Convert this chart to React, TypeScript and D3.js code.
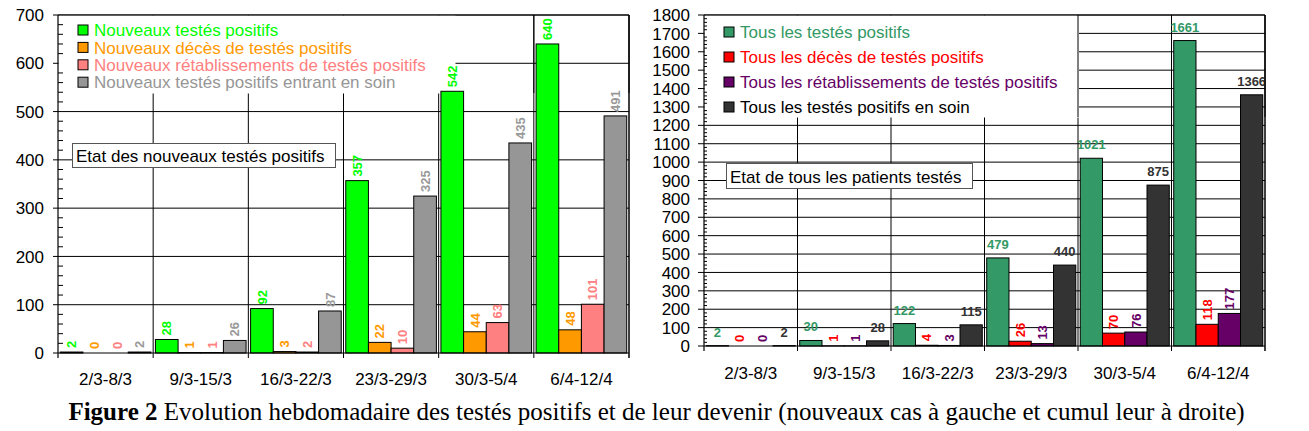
import React from 'react';
import * as d3 from 'd3';

const categories = ['2/3-8/3', '9/3-15/3', '16/3-22/3', '23/3-29/3', '30/3-5/4', '6/4-12/4'];

// left panel: new cases per week
const newPositive = [2, 28, 92, 357, 542, 640];
const newDeaths = [0, 1, 3, 22, 44, 48];
const newRecovered = [0, 1, 2, 10, 63, 101];
const newInCare = [2, 26, 87, 325, 435, 491];

// right panel: cumulative
const allPositive = [2, 30, 122, 479, 1021, 1661];
const allDeaths = [0, 1, 4, 26, 70, 118];
const allRecovered = [0, 1, 3, 13, 76, 177];
const allInCare = [2, 28, 115, 440, 875, 1366];

const leftTicks = d3.range(0, 701, 100);
const rightTicks = d3.range(0, 1801, 100);

const leftNames = [
  'Nouveaux testés positifs',
  'Nouveaux décès de testés positifs',
  'Nouveaux rétablissements de testés positifs',
  'Nouveaux testés positifs entrant en soin',
];
const rightNames = [
  'Tous les testés positifs',
  'Tous les décès de testés positifs',
  'Tous les rétablissements de testés positifs',
  'Tous les testés positifs en soin',
];

const FONT = '"Liberation Sans", Arial, sans-serif';

interface Series {
  name: string;
  values: number[];
  fill: string;
  text: string;
  horizontal: boolean;
}

interface PanelProps {
  series: Series[];
  ticks: number[];
  max: number;
  x0: number;
  x1: number;
  yTop: number;
  yZero: number;
  legend: { w: number; h: number; rowY: number; rowGap: number };
  box: { x: number; y: number; w: number; h: number; label: string };
  xLabelY: number;
  majorLen: number;
  minorLen: number;
}

const Panel: React.FC<PanelProps> = ({ series, ticks, max, x0, x1, yTop, yZero, legend, box, xLabelY, majorLen, minorLen }) => {
  const x = d3.scaleBand<string>().domain(categories).range([x0, x1]).padding(0);
  const inner = d3.scaleBand<number>().domain(d3.range(series.length)).range([0, x.bandwidth()]).paddingInner(0).paddingOuter(0.1);
  const y = d3.scaleLinear().domain([0, max]).range([yZero, yTop]);
  const minor = d3.range(0, max + 1, 20).filter(v => v % 100 !== 0);
  const bounds = categories.map(c => x(c)!).concat([x1]);
  const lx1 = x0 + legend.w;
  const ly1 = yTop + legend.h;

  return (
    <g>
      {/* horizontal grid */}
      {ticks.filter(t => t > 0).map(t => (
        <line key={'h' + t} x1={x0} x2={x1} y1={y(t)} y2={y(t)} stroke="#000" strokeWidth={1} />
      ))}
      {/* vertical grid at category bounds */}
      {bounds.slice(1).map((b, i) => (
        <line key={'v' + i} x1={b} x2={b} y1={yTop} y2={yZero + 5} stroke="#000" strokeWidth={1} />
      ))}
      {/* legend background hides grid */}
      <rect x={x0 + 0.5} y={yTop + 0.5} width={lx1 - x0} height={ly1 - yTop} fill="#fff" />
      {bounds.slice(1).filter(b => b >= lx1 - 1).map((b, i) => (
        <line key={'vr' + i} x1={b} x2={b} y1={yTop} y2={ly1} stroke="#000" strokeWidth={1} />
      ))}
      <line x1={x0} x2={x1} y1={yTop} y2={yTop} stroke="#000" />

      {series.map((s, si) => (
        <g key={s.name}>
          <rect
            x={x0 + 20}
            y={legend.rowY + si * legend.rowGap - 5}
            width={10}
            height={10}
            fill={s.fill}
            stroke="#000"
            strokeWidth={1}
          />
          <text
            x={x0 + 36}
            y={legend.rowY + si * legend.rowGap}
            dy="0.36em"
            fontFamily={FONT}
            fontSize={17}
            fill={s.text}
          >
            {s.name}
          </text>
        </g>
      ))}

      {/* bars */}
      {series.map((s, si) =>
        s.values.map((v, ci) => {
          const bx = x(categories[ci])! + inner(si)!;
          const bw = inner.bandwidth();
          const top = y(v);
          const cx = bx + bw / 2;
          return (
            <g key={s.name + ci}>
              <rect x={bx} y={top} width={bw} height={yZero - top} fill={s.fill} stroke="#000" strokeWidth={1} />
              {s.horizontal ? (
                <text x={cx} y={top - 9} textAnchor="middle" fontFamily={FONT} fontSize={13} fontWeight="bold" fill={s.fill}>
                  {v}
                </text>
              ) : (
                <text
                  transform={`translate(${cx},${top - 4}) rotate(-90)`}
                  dy="0.36em"
                  fontFamily={FONT}
                  fontSize={13}
                  fontWeight="bold"
                  fill={s.fill === '#969696' ? '#999' : s.fill}
                >
                  {v}
                </text>
              )}
            </g>
          );
        })
      )}

      {/* note box */}
      <rect x={box.x + 0.5} y={box.y + 0.5} width={box.w} height={box.h} fill="#fff" stroke="#555" strokeWidth={1} />
      <text x={box.x + 4} y={box.y + box.h / 2 + 1} dy="0.36em" fontFamily={FONT} fontSize={17} fill="#000">
        {box.label}
      </text>

      {/* axes */}
      <line x1={x0} x2={x0} y1={yTop} y2={yZero + 5} stroke="#000" strokeWidth={1.2} />
      <line x1={x0} x2={x1} y1={yZero} y2={yZero} stroke="#000" strokeWidth={1.2} />
      <line x1={x1} x2={x1} y1={yTop} y2={yZero + 5} stroke="#000" strokeWidth={1} />
      {ticks.map(t => (
        <g key={'t' + t}>
          <line x1={x0 - majorLen} x2={x0} y1={y(t)} y2={y(t)} stroke="#000" />
          <text x={x0 - 14} y={y(t)} dy="0.36em" textAnchor="end" fontFamily={FONT} fontSize={17} fill="#000">
            {t}
          </text>
        </g>
      ))}
      {minor.map(t => (
        <line key={'m' + t} x1={x0} x2={x0 + minorLen} y1={y(t)} y2={y(t)} stroke="#000" />
      ))}
      {categories.map(c => (
        <text
          key={c}
          x={x(c)! + x.bandwidth() / 2}
          y={xLabelY}
          dy="0.36em"
          textAnchor="middle"
          fontFamily={FONT}
          fontSize={17}
          fill="#000"
        >
          {c}
        </text>
      ))}
    </g>
  );
};

const App: React.FC = () => {
  const leftSeries: Series[] = [
    { name: leftNames[0], values: newPositive, fill: '#00FF00', text: '#00FF00', horizontal: false },
    { name: leftNames[1], values: newDeaths, fill: '#FF9900', text: '#FF9900', horizontal: false },
    { name: leftNames[2], values: newRecovered, fill: '#FF8080', text: '#FF8080', horizontal: false },
    { name: leftNames[3], values: newInCare, fill: '#969696', text: '#969696', horizontal: false },
  ];
  const rightSeries: Series[] = [
    { name: rightNames[0], values: allPositive, fill: '#339966', text: '#339966', horizontal: true },
    { name: rightNames[1], values: allDeaths, fill: '#FF0000', text: '#FF0000', horizontal: false },
    { name: rightNames[2], values: allRecovered, fill: '#660066', text: '#660066', horizontal: false },
    { name: rightNames[3], values: allInCare, fill: '#333333', text: '#000000', horizontal: true },
  ];

  return (
    <div style={{ position: 'absolute', left: 0, top: 0 }}>
      <svg width={1309} height={431} style={{ display: 'block', background: '#fff' }}>
        <rect width={1309} height={431} fill="#fff" />
        <Panel
          series={leftSeries}
          ticks={leftTicks}
          max={700}
          x0={58}
          x1={629}
          yTop={15}
          yZero={353}
          legend={{ w: 397, h: 78, rowY: 30, rowGap: 17.4 }}
          box={{ x: 72, y: 143, w: 263, h: 24, label: 'Etat des nouveaux testés positifs' }}
          xLabelY={379}
          majorLen={5}
          minorLen={5}
        />
        <Panel
          series={rightSeries}
          ticks={rightTicks}
          max={1800}
          x0={704}
          x1={1265}
          yTop={15}
          yZero={346}
          legend={{ w: 374.5, h: 102, rowY: 32, rowGap: 25 }}
          box={{ x: 726, y: 163, w: 246, h: 25, label: 'Etat de tous les patients testés' }}
          xLabelY={373}
          majorLen={6}
          minorLen={3}
        />
        <text x={656.5} y={420} textAnchor="middle" fontFamily='"Liberation Serif", "Times New Roman", serif' fontSize={25} fill="#000">
          <tspan fontWeight="bold">Figure 2</tspan> Evolution hebdomadaire des testés positifs et de leur devenir (nouveaux cas à gauche et cumul leur à droite)
        </text>
      </svg>
    </div>
  );
};

export default App;
